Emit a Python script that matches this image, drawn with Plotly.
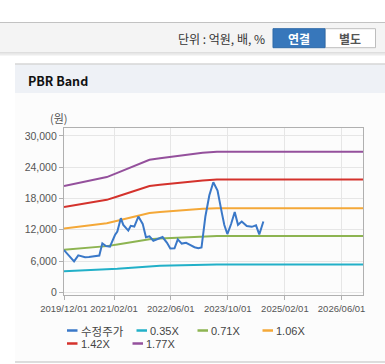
import plotly.graph_objects as go

# ---------------- data ----------------
price_dates = ["2019-12-01","2020-01-01","2020-02-01","2020-02-25","2020-04-01","2020-05-01","2020-05-29",
               "2020-07-01","2020-07-31","2020-08-31","2020-09-28","2020-10-24","2020-11-24","2020-12-28",
               "2021-02-09","2021-03-01","2021-03-31","2021-04-21","2021-06-03","2021-06-24","2021-07-24",
               "2021-08-28","2021-10-04","2021-11-01","2021-12-01","2022-01-03","2022-02-15","2022-03-23",
               "2022-04-30","2022-05-28","2022-07-03","2022-07-31","2022-09-03","2022-10-10","2022-11-13",
               "2022-12-21","2023-01-23","2023-02-19","2023-03-24","2023-04-27","2023-05-31","2023-07-06",
               "2023-08-14","2023-09-02","2023-09-28","2023-10-30","2023-11-30","2023-12-28","2024-01-29",
               "2024-03-12","2024-04-24","2024-05-30","2024-06-27","2024-08-01"]
price_values = [8100, 7300, 6400, 5950, 7100, 6950, 6750,
                6800, 6850, 6950, 7050, 9400, 8900, 8770,
                11000, 11650, 14230, 12940, 11850, 12750, 12620,
                14540, 13130, 10580, 10750, 9900, 10300, 10600,
                9500, 8400, 8460, 10150, 9350, 9500, 9100,
                8650, 8460, 8600, 14540, 18600, 21100, 19500,
                15000, 12900, 11180, 13100, 15400, 12940, 13580,
                12700, 12560, 12850, 11100, 13580]

band_dates = ["2019-12-01","2020-03-01","2020-06-01","2020-09-01","2020-12-01","2021-03-01","2021-06-01",
              "2021-09-01","2021-12-01","2022-03-01","2022-06-01","2022-09-01","2022-12-01","2023-03-01",
              "2023-07-01","2026-12-01"]
band_035 = [4034, 4113, 4192, 4291, 4370, 4528, 4686, 4864, 5023, 5082, 5141, 5201, 5250, 5290, 5329, 5329]
band_071 = [8183, 8343, 8504, 8705, 8865, 9186, 9507, 9868, 10189, 10309, 10429, 10550, 10650, 10730, 10810, 10810]
band_106 = [12217, 12456, 12696, 12996, 13235, 13714, 14193, 14732, 15211, 15391, 15570, 15751, 15900, 16020, 16140, 16140]
band_142 = [16366, 16686, 17007, 17409, 17730, 18372, 19014, 19735, 20377, 20618, 20858, 21100, 21300, 21460, 21621, 21621]
band_177 = [20400, 20800, 21200, 21700, 22100, 22900, 23700, 24600, 25400, 25700, 26000, 26300, 26550, 26750, 26950, 26950]

series_names = ["수정주가", "0.35X", "0.71X", "1.06X", "1.42X", "1.77X"]
series_colors = ["#3a78c8", "#22b0c8", "#8db451", "#f4a838", "#d4322c", "#94509c"]

x_tick_vals = ["2019-12-01", "2021-02-01", "2022-06-01", "2023-10-01", "2025-02-01", "2026-06-01"]
x_tick_text = ["2019/12/01", "2021/02/01", "2022/06/01", "2023/10/01", "2025/02/01", "2026/06/01"]
y_tick_vals = [0, 6000, 12000, 18000, 24000, 30000]

# ---------------- layout geometry ----------------
W, H = 385, 364
L, R, T, B = 64, 22, 128, 69
PW, PH = W - L - R, H - T - B


def px(x):
    return (x - L) / PW


def py(y):
    return (H - B - y) / PH


KR = "Noto Sans CJK KR"
LAT = "Liberation Sans, Arial, Noto Sans CJK KR"

fig = go.Figure()

band_series = [band_035, band_071, band_106, band_142, band_177]
for name, color, vals in zip(series_names[1:], series_colors[1:], band_series):
    fig.add_trace(go.Scatter(x=band_dates, y=vals, mode="lines", name=name,
                             line=dict(color=color, width=2), showlegend=False))
fig.add_trace(go.Scatter(x=price_dates, y=price_values, mode="lines", name=series_names[0],
                         line=dict(color=series_colors[0], width=2), showlegend=False))

shapes = []
annotations = []

# header toolbar
shapes.append(dict(type="rect", xref="paper", yref="paper", x0=px(0), x1=px(385), y0=py(53), y1=py(22.5),
                   fillcolor="#f4f4f4", line=dict(width=0), layer="below"))
shapes.append(dict(type="line", xref="paper", yref="paper", x0=px(0), x1=px(385), y0=py(22.5), y1=py(22.5),
                   line=dict(color="#c2c2c2", width=1), layer="below"))
shapes.append(dict(type="line", xref="paper", yref="paper", x0=px(0), x1=px(385), y0=py(53), y1=py(53),
                   line=dict(color="#c8c8c8", width=1), layer="below"))
shapes.append(dict(type="line", xref="paper", yref="paper", x0=px(0), x1=px(385), y0=py(54.5), y1=py(54.5),
                   line=dict(color="#ececec", width=2), layer="below"))
# buttons
shapes.append(dict(type="rect", xref="paper", yref="paper", x0=px(325), x1=px(375.5), y0=py(47.7), y1=py(28.7),
                   fillcolor="#ffffff", line=dict(color="#bdbdbd", width=1), layer="below"))
shapes.append(dict(type="rect", xref="paper", yref="paper", x0=px(273), x1=px(325), y0=py(47.7), y1=py(28.7),
                   fillcolor="#3777bb", line=dict(color="#2f6aa8", width=1), layer="below"))
annotations.append(dict(text="단위 : 억원, 배, %", xref="paper", yref="paper", x=px(267), y=py(39),
                        xanchor="right", yanchor="middle", showarrow=False,
                        font=dict(family=KR, size=12, color="#333333")))
annotations.append(dict(text="<b>연결</b>", xref="paper", yref="paper", x=px(299), y=py(38.5),
                        xanchor="center", yanchor="middle", showarrow=False,
                        font=dict(family=KR, size=12, color="#ffffff")))
annotations.append(dict(text="<b>별도</b>", xref="paper", yref="paper", x=px(350), y=py(38.5),
                        xanchor="center", yanchor="middle", showarrow=False,
                        font=dict(family=KR, size=12, color="#555555")))

# panel
shapes.append(dict(type="rect", xref="paper", yref="paper", x0=px(15), x1=px(386), y0=py(362), y1=py(93),
                   fillcolor="#fcfcfc", line=dict(width=0), layer="below"))
shapes.append(dict(type="rect", xref="paper", yref="paper", x0=px(15), x1=px(386), y0=py(93), y1=py(64),
                   fillcolor="#eef1f6", line=dict(width=0), layer="below"))
shapes.append(dict(type="line", xref="paper", yref="paper", x0=px(15), x1=px(386), y0=py(64), y1=py(64),
                   line=dict(color="#d6d6d6", width=1.5), layer="below"))
shapes.append(dict(type="line", xref="paper", yref="paper", x0=px(15), x1=px(386), y0=py(362), y1=py(362),
                   line=dict(color="#d2d2d2", width=1.5), layer="below"))
annotations.append(dict(text="<b>PBR Band</b>", xref="paper", yref="paper", x=px(25.5), y=py(80.5),
                        xanchor="left", yanchor="middle", showarrow=False,
                        font=dict(family=KR, size=12.5, color="#111111")))
annotations.append(dict(text="(원)", xref="paper", yref="paper", x=px(58.5), y=py(117.5),
                        xanchor="center", yanchor="middle", showarrow=False,
                        font=dict(family=KR, size=11, color="#555555")))

# legend (manual)
legend_pos = [(67, 330.5), (136.5, 330.5), (197.5, 330.5), (262.5, 330.5), (67, 343.5), (132.5, 343.5)]
for (lx, ly), name, color in zip(legend_pos, series_names, series_colors):
    shapes.append(dict(type="line", xref="paper", yref="paper", x0=px(lx), x1=px(lx + 10.5),
                       y0=py(ly), y1=py(ly), line=dict(color=color, width=2.5)))
    annotations.append(dict(text=name, xref="paper", yref="paper", x=px(lx + 11.5), y=py(ly),
                            xanchor="left", yanchor="middle", showarrow=False,
                            font=dict(family=KR if name == "수정주가" else LAT, size=11.5 if name == "수정주가" else 11,
                                      color="#444444")))

fig.update_layout(
    width=W, height=H,
    margin=dict(l=L, r=R, t=T, b=B, pad=0),
    paper_bgcolor="#ffffff",
    plot_bgcolor="rgba(0,0,0,0)",
    showlegend=False,
    shapes=shapes,
    annotations=annotations,
    xaxis=dict(type="date", range=["2019-12-01", "2026-12-01"],
               tickvals=x_tick_vals, ticktext=x_tick_text,
               showgrid=True, gridcolor="#e6e6e6", gridwidth=1,
               showline=True, linecolor="#b0b0b0", linewidth=1.2, mirror=True,
               ticks="outside", ticklen=4, tickcolor="#b0b0b0",
               tickfont=dict(family=LAT, size=9.5, color="#555555"),
               zeroline=False, fixedrange=True),
    yaxis=dict(range=[-500, 31500], tickvals=y_tick_vals, tickformat=",d",
               showgrid=True, gridcolor="#e6e6e6", gridwidth=1,
               showline=True, linecolor="#b0b0b0", linewidth=1.2, mirror=True,
               ticks="outside", ticklen=4, tickcolor="#b0b0b0",
               tickfont=dict(family=LAT, size=10.5, color="#555555"),
               zeroline=False, fixedrange=True),
)

fig.write_html("out.html", config={"displayModeBar": False},
               post_script="document.body.style.margin='0';document.body.style.overflow='hidden';")
